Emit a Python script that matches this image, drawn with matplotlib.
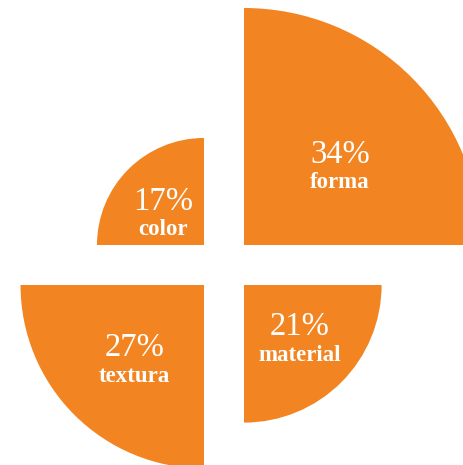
import matplotlib
matplotlib.use("Agg")
import matplotlib.pyplot as plt
from matplotlib.patches import Wedge
import numpy as np

# data
categories = ["forma", "color", "textura", "material"]
values = [34, 17, 27, 21]
value_labels = ["34%", "17%", "27%", "21%"]

# layout / style
W, H = 464, 465
ORANGE = "#F28522"
cx, cy = 224, 200          # chart centre (y up)
gap = 20                   # half gap between quadrants
dom_min, dom_max, r_max = 3, 34, 237   # radial linear scale

def rscale(v):
    return (v - dom_min) / (dom_max - dom_min) * r_max

quadrants = [(0, 90, 1, 1), (90, 180, -1, 1), (180, 270, -1, -1), (270, 360, 1, -1)]
# label position as fraction of radius (x, y) for each slice
label_frac = [(0.405, 0.322), (-0.383, 0.272), (-0.381, -0.42), (0.407, -0.407)]

fig = plt.figure(figsize=(W / 100, H / 100), dpi=100)
ax = fig.add_axes([0, 0, 1, 1])
ax.set_xlim(0, W)
ax.set_ylim(0, H)
ax.axis("off")

for cat, v, lab, (t1, t2, sx, sy), (fx, fy) in zip(categories, values, value_labels, quadrants, label_frac):
    ox, oy = cx + sx * gap, cy + sy * gap
    r = rscale(v)
    ax.add_patch(Wedge((ox, oy), r, t1, t2, facecolor=ORANGE, edgecolor="none"))
    lx, ly = ox + fx * r, oy + fy * r
    ax.text(lx, ly + 14, lab, ha="center", va="center", color="white",
            fontsize=23.5, family="Liberation Serif")
    ax.text(lx, ly - 14, cat, ha="center", va="center", color="white",
            fontsize=16.5, family="Liberation Serif", fontweight="bold")

fig.savefig("out.png", dpi=100)
